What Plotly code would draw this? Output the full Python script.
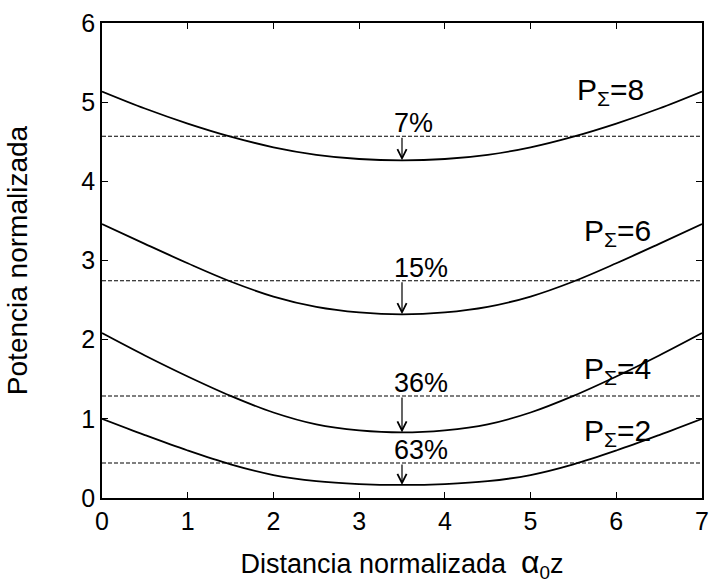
import plotly.graph_objects as go

# Normalized distance samples along the fiber
z = [0.0, 0.5, 1.0, 1.5, 2.0, 2.5, 3.0, 3.5, 4.0, 4.5, 5.0, 5.5, 6.0, 6.5, 7.0]

# Normalized power profiles for each total pump power
p8 = [5.135, 4.92, 4.73, 4.565, 4.43, 4.335, 4.282, 4.265, 4.282, 4.335, 4.43, 4.565, 4.73, 4.92, 5.135]
p6 = [3.46, 3.21, 2.965, 2.735, 2.545, 2.415, 2.345, 2.32, 2.345, 2.415, 2.545, 2.735, 2.965, 3.21, 3.46]
p4 = [2.083, 1.80, 1.535, 1.29, 1.08, 0.93, 0.855, 0.828, 0.855, 0.93, 1.08, 1.29, 1.535, 1.80, 2.083]
p2 = [1.0, 0.795, 0.60, 0.425, 0.29, 0.212, 0.176, 0.165, 0.176, 0.212, 0.29, 0.425, 0.60, 0.795, 1.0]

# Mean power levels (dashed lines), minima and ripple percentages
mean_levels = [4.57, 2.744, 1.289, 0.443]
min_levels = [4.265, 2.32, 0.828, 0.165]
ripple_text = ["7%", "15%", "36%", "63%"]
pump_labels = ["P<sub>Σ</sub>=8", "P<sub>Σ</sub>=6", "P<sub>Σ</sub>=4", "P<sub>Σ</sub>=2"]
label_y = [5.13, 3.36, 1.61, 0.83]
label_x = [5.52, 5.6, 5.6, 5.6]
z_mid = 3.5

FONT = "Liberation Sans, Arial, sans-serif"

fig = go.Figure()

for curve in [p8, p6, p4, p2]:
    fig.add_trace(go.Scatter(x=z, y=curve, mode="lines",
                             line=dict(color="black", width=1.8, shape="spline", smoothing=1.0),
                             showlegend=False, hoverinfo="skip"))

for level in mean_levels:
    fig.add_trace(go.Scatter(x=[z[0], z[-1]], y=[level, level], mode="lines",
                             line=dict(color="black", width=1.1, dash="4px,2px"),
                             showlegend=False, hoverinfo="skip"))

annotations = []
for level, low, txt in zip(mean_levels, min_levels, ripple_text):
    # arrow from the mean level down to the minimum
    annotations.append(dict(x=z_mid, y=low, ax=z_mid, ay=level, xref="x", yref="y",
                            axref="x", ayref="y", showarrow=True, arrowhead=5,
                            arrowsize=1.5, arrowwidth=1.2, arrowcolor="black", text=""))
    annotations.append(dict(x=3.38, y=level, xref="x", yref="y", text=txt,
                            showarrow=False, xanchor="left", yanchor="bottom", yshift=-4,
                            font=dict(family=FONT, size=27, color="black")))

for lx, ly, lab in zip(label_x, label_y, pump_labels):
    annotations.append(dict(x=lx, y=ly, xref="x", yref="y", text=lab, showarrow=False,
                            xanchor="left", yanchor="middle",
                            font=dict(family=FONT, size=30, color="black")))

axis_common = dict(showline=True, linecolor="black", linewidth=1.5, mirror="ticks",
                   ticks="inside", ticklen=6, tickcolor="black", tickwidth=1,
                   showgrid=False, zeroline=False,
                   tickfont=dict(family=FONT, size=25, color="black"))

fig.update_layout(
    width=716, height=583,
    margin=dict(l=102, r=7, t=23, b=82),
    paper_bgcolor="white", plot_bgcolor="white",
    annotations=annotations,
    xaxis=dict(range=[0, 7], tickvals=[0, 1, 2, 3, 4, 5, 6, 7], **axis_common,
               title=dict(text="Distancia normalizada  <span style='font-size:32px'>α</span><sub>0</sub>z",
                          standoff=22, font=dict(family=FONT, size=27, color="black"))),
    yaxis=dict(range=[0, 6], tickvals=[0, 1, 2, 3, 4, 5, 6], **axis_common,
               title=dict(text="Potencia normalizada", standoff=46,
                          font=dict(family=FONT, size=28, color="black"))),
)

fig.write_html("out.html")
